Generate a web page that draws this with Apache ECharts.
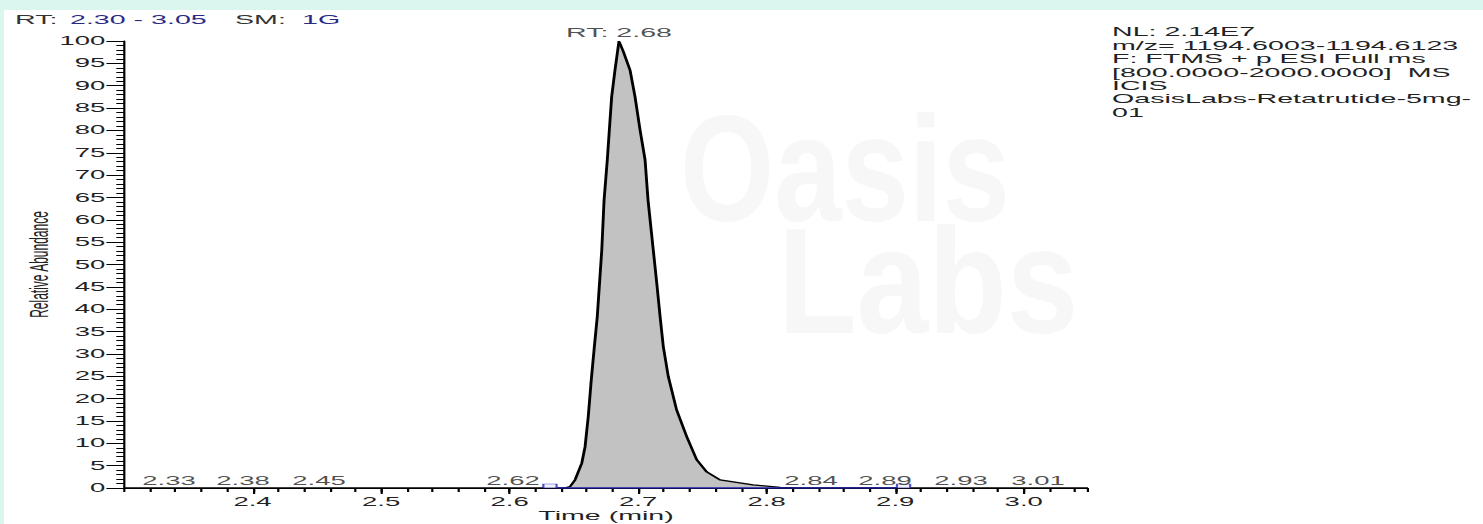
<!DOCTYPE html>
<html><head><meta charset="utf-8">
<script src="https://cdn.jsdelivr.net/npm/echarts@6/dist/echarts.min.js"></script>
<style>
html,body{margin:0;padding:0;width:1483px;height:524px;overflow:hidden;background:#d9f7ee;}
#panel{position:absolute;left:4px;top:10px;width:1479px;height:514px;background:#fff;}
#chart{position:absolute;left:0;top:0;width:674.09px;height:524px;transform:scaleX(2.2);transform-origin:0 0;}
</style></head><body>
<div id="panel"></div><div id="chart"></div>
<script>
// ---- data ----
const peakTimes  = [2.30, 2.6431, 2.6470, 2.6509, 2.6561, 2.6587, 2.6612, 2.6633, 2.6657, 2.6682, 2.6717, 2.6735, 2.6760, 2.6776, 2.6794, 2.6820, 2.6851,
                    2.6885, 2.6937, 2.6976, 2.7015, 2.7054, 2.7077, 2.7118, 2.7145, 2.7171, 2.7196, 2.7235, 2.7300, 2.7378, 2.7456, 2.7534, 2.7637, 2.7894, 2.8104, 2.8260, 3.05];
const peakValues = [0, 0, 0.3, 1.8, 5.5, 9.2, 16.0, 23.4, 30.9, 38.3, 53.2, 64.4, 73.4, 80.1, 87.5, 93.5, 100,
                    97.6, 93.5, 87.5, 80.1, 73.4, 64.4, 53.2, 45.8, 38.3, 31.6, 24.9, 17.4, 11.5, 6.3, 3.6, 1.8, 0.7, 0.15, 0, 0];
const apexTime = 2.6851, apexValue = 100, apexLabel = 'RT: 2.68';
const minorPeakLabels = ['2.33', '2.38', '2.45', '2.62', '2.84', '2.89', '2.93', '3.01'];
const minorPeakLabelTimes = [2.335, 2.3926, 2.4517, 2.6027, 2.8345, 2.8921, 2.9512, 3.0111];
const baselineTimes = [2.6369, 2.9007];
const boundaryTimes = [2.6314, 2.9065];
const xTickValues = [2.4, 2.5, 2.6, 2.7, 2.8, 2.9, 3.0];
const xMin = 2.30, xMax = 3.05;
const yMin = 0, yMax = 100, yStep = 5;
const headerParts = ['RT:', '2.30 - 3.05', 'SM:', '1G'];
const infoLines = ['NL: 2.14E7', 'm/z= 1194.6003-1194.6123', 'F: FTMS + p ESI Full ms', '[800.0000-2000.0000]  MS', 'ICIS', 'OasisLabs-Retatrutide-5mg-', '01'];

// ---- layout ----
const S = 2.2;               // horizontal stretch of the reference
const px = v => v / S;       // reference px -> unscaled px
const FONT = '"Liberation Sans", Arial, sans-serif';

const chart = echarts.init(document.getElementById('chart'), null, {renderer: 'svg', width: 1483 / S, height: 524});

function txt(x, y, text, size, color) {
  return {
    type: 'text', x: x, y: y, z: 10,
    style: {text: text, fill: color, fontSize: size, fontFamily: FONT,
      align: 'left', verticalAlign: 'middle', textAlign: 'left', textVerticalAlign: 'middle'}
  };
}
function mark(x, y, text, sx) {
  return {
    type: 'text', x: x, y: y, z: 0, scaleX: sx, silent: true,
    style: {text: text, fill: '#f7f7f7', fontSize: 150, fontWeight: 'bold', fontFamily: FONT,
      align: 'left', verticalAlign: 'middle', textAlign: 'left', textVerticalAlign: 'middle'}
  };
}

const option = {
  animation: false,
  backgroundColor: 'transparent',
  grid: {left: px(124), right: (1483 - 1088) / S, top: 41, bottom: 36, containLabel: false, outerBoundsMode: 'none'},
  xAxis: [{
    type: 'value', min: xMin, max: xMax, interval: 0.1,
    name: 'Time (min)', nameLocation: 'middle', nameGap: 21, nameMoveOverlap: false,
    nameTextStyle: {color: '#222', fontSize: 13, fontFamily: FONT},
    axisLine: {show: true, lineStyle: {color: '#000', width: 1}},
    axisTick: {show: true, length: 6, lineStyle: {color: '#000', width: 1}, customValues: xTickValues},
    axisLabel: {show: true, margin: 7, color: '#222', fontSize: 12.5, fontFamily: FONT,
      customValues: xTickValues, formatter: v => Number(v).toFixed(1)},
    splitLine: {show: false}
  }, {
    type: 'value', min: xMin, max: xMax, interval: 0.02, position: 'bottom',
    axisLine: {show: false},
    axisTick: {show: true, length: 4, lineStyle: {color: '#000', width: 1}},
    axisLabel: {show: false}, splitLine: {show: false}
  }],
  yAxis: {
    type: 'value', min: yMin, max: yMax, interval: yStep,
    name: 'Relative Abundance', nameLocation: 'middle', nameGap: 33, nameRotate: 90, nameMoveOverlap: false,
    nameTextStyle: {color: '#222', fontSize: 12, fontFamily: FONT},
    axisLine: {show: true, lineStyle: {color: '#000', width: 1}},
    axisTick: {show: true, length: 8, lineStyle: {color: '#000', width: 1}},
    minorTick: {show: true, splitNumber: 5, length: 3.5, lineStyle: {color: '#000', width: 1}},
    axisLabel: {margin: 8.5, color: '#222', fontSize: 12.5, fontFamily: FONT},
    splitLine: {show: false}
  },
  graphic: [
    mark(px(680), 169, 'Oasis', 0.367),
    mark(px(778), 281, 'Labs', 0.39),
    txt(px(15), 19.5, headerParts[0], 13, '#333'),
    txt(px(70), 19.5, headerParts[1], 13, '#2a2a85'),
    txt(px(235), 19.5, headerParts[2], 13, '#333'),
    txt(px(302), 19.5, headerParts[3], 13, '#2a2a85'),
    {type: 'text', x: px(1112), y: 25.3, z: 10,
     style: {text: infoLines.join('\n'), fill: '#222', fontSize: 13, fontFamily: FONT, lineHeight: 13.4,
             align: 'left', verticalAlign: 'top', textAlign: 'left', textVerticalAlign: 'top'}}
  ],
  series: [
    {
      type: 'line', name: 'XIC', xAxisIndex: 0,
      data: peakTimes.map((t, i) => [t, peakValues[i]]),
      showSymbol: false, symbol: 'none', smooth: false,
      lineStyle: {color: '#000', width: 1.3},
      areaStyle: {color: '#c2c2c2', opacity: 1},
      z: 3
    },
    {
      type: 'line', name: 'baseline', xAxisIndex: 0,
      data: baselineTimes.map(t => [t, 0]),
      showSymbol: false, symbol: 'none',
      lineStyle: {color: '#1e1ea8', width: 1.3}, z: 4
    },
    {
      type: 'scatter', name: 'bounds', xAxisIndex: 0,
      data: boundaryTimes.map(t => [t, 0]),
      symbol: 'rect', symbolSize: [6, 4], symbolOffset: [0, -2],
      itemStyle: {color: '#eef', borderColor: '#2424b0', borderWidth: 0.8}, z: 5
    },
    {
      type: 'scatter', name: 'apex', xAxisIndex: 0,
      data: [[apexTime, apexValue]], symbolSize: 0,
      label: {show: true, position: 'top', distance: 2, formatter: apexLabel,
              color: '#222', fontSize: 13, fontFamily: FONT}, z: 6
    },
    {
      type: 'scatter', name: 'minor peaks', xAxisIndex: 0,
      data: minorPeakLabelTimes.map(t => [t, 0]), symbolSize: 0,
      label: {show: true, position: 'top', distance: 1, formatter: p => minorPeakLabels[p.dataIndex],
              color: '#222', fontSize: 12.5, fontFamily: FONT}, z: 6
    }
  ]
};
chart.setOption(option);
</script></body></html>
